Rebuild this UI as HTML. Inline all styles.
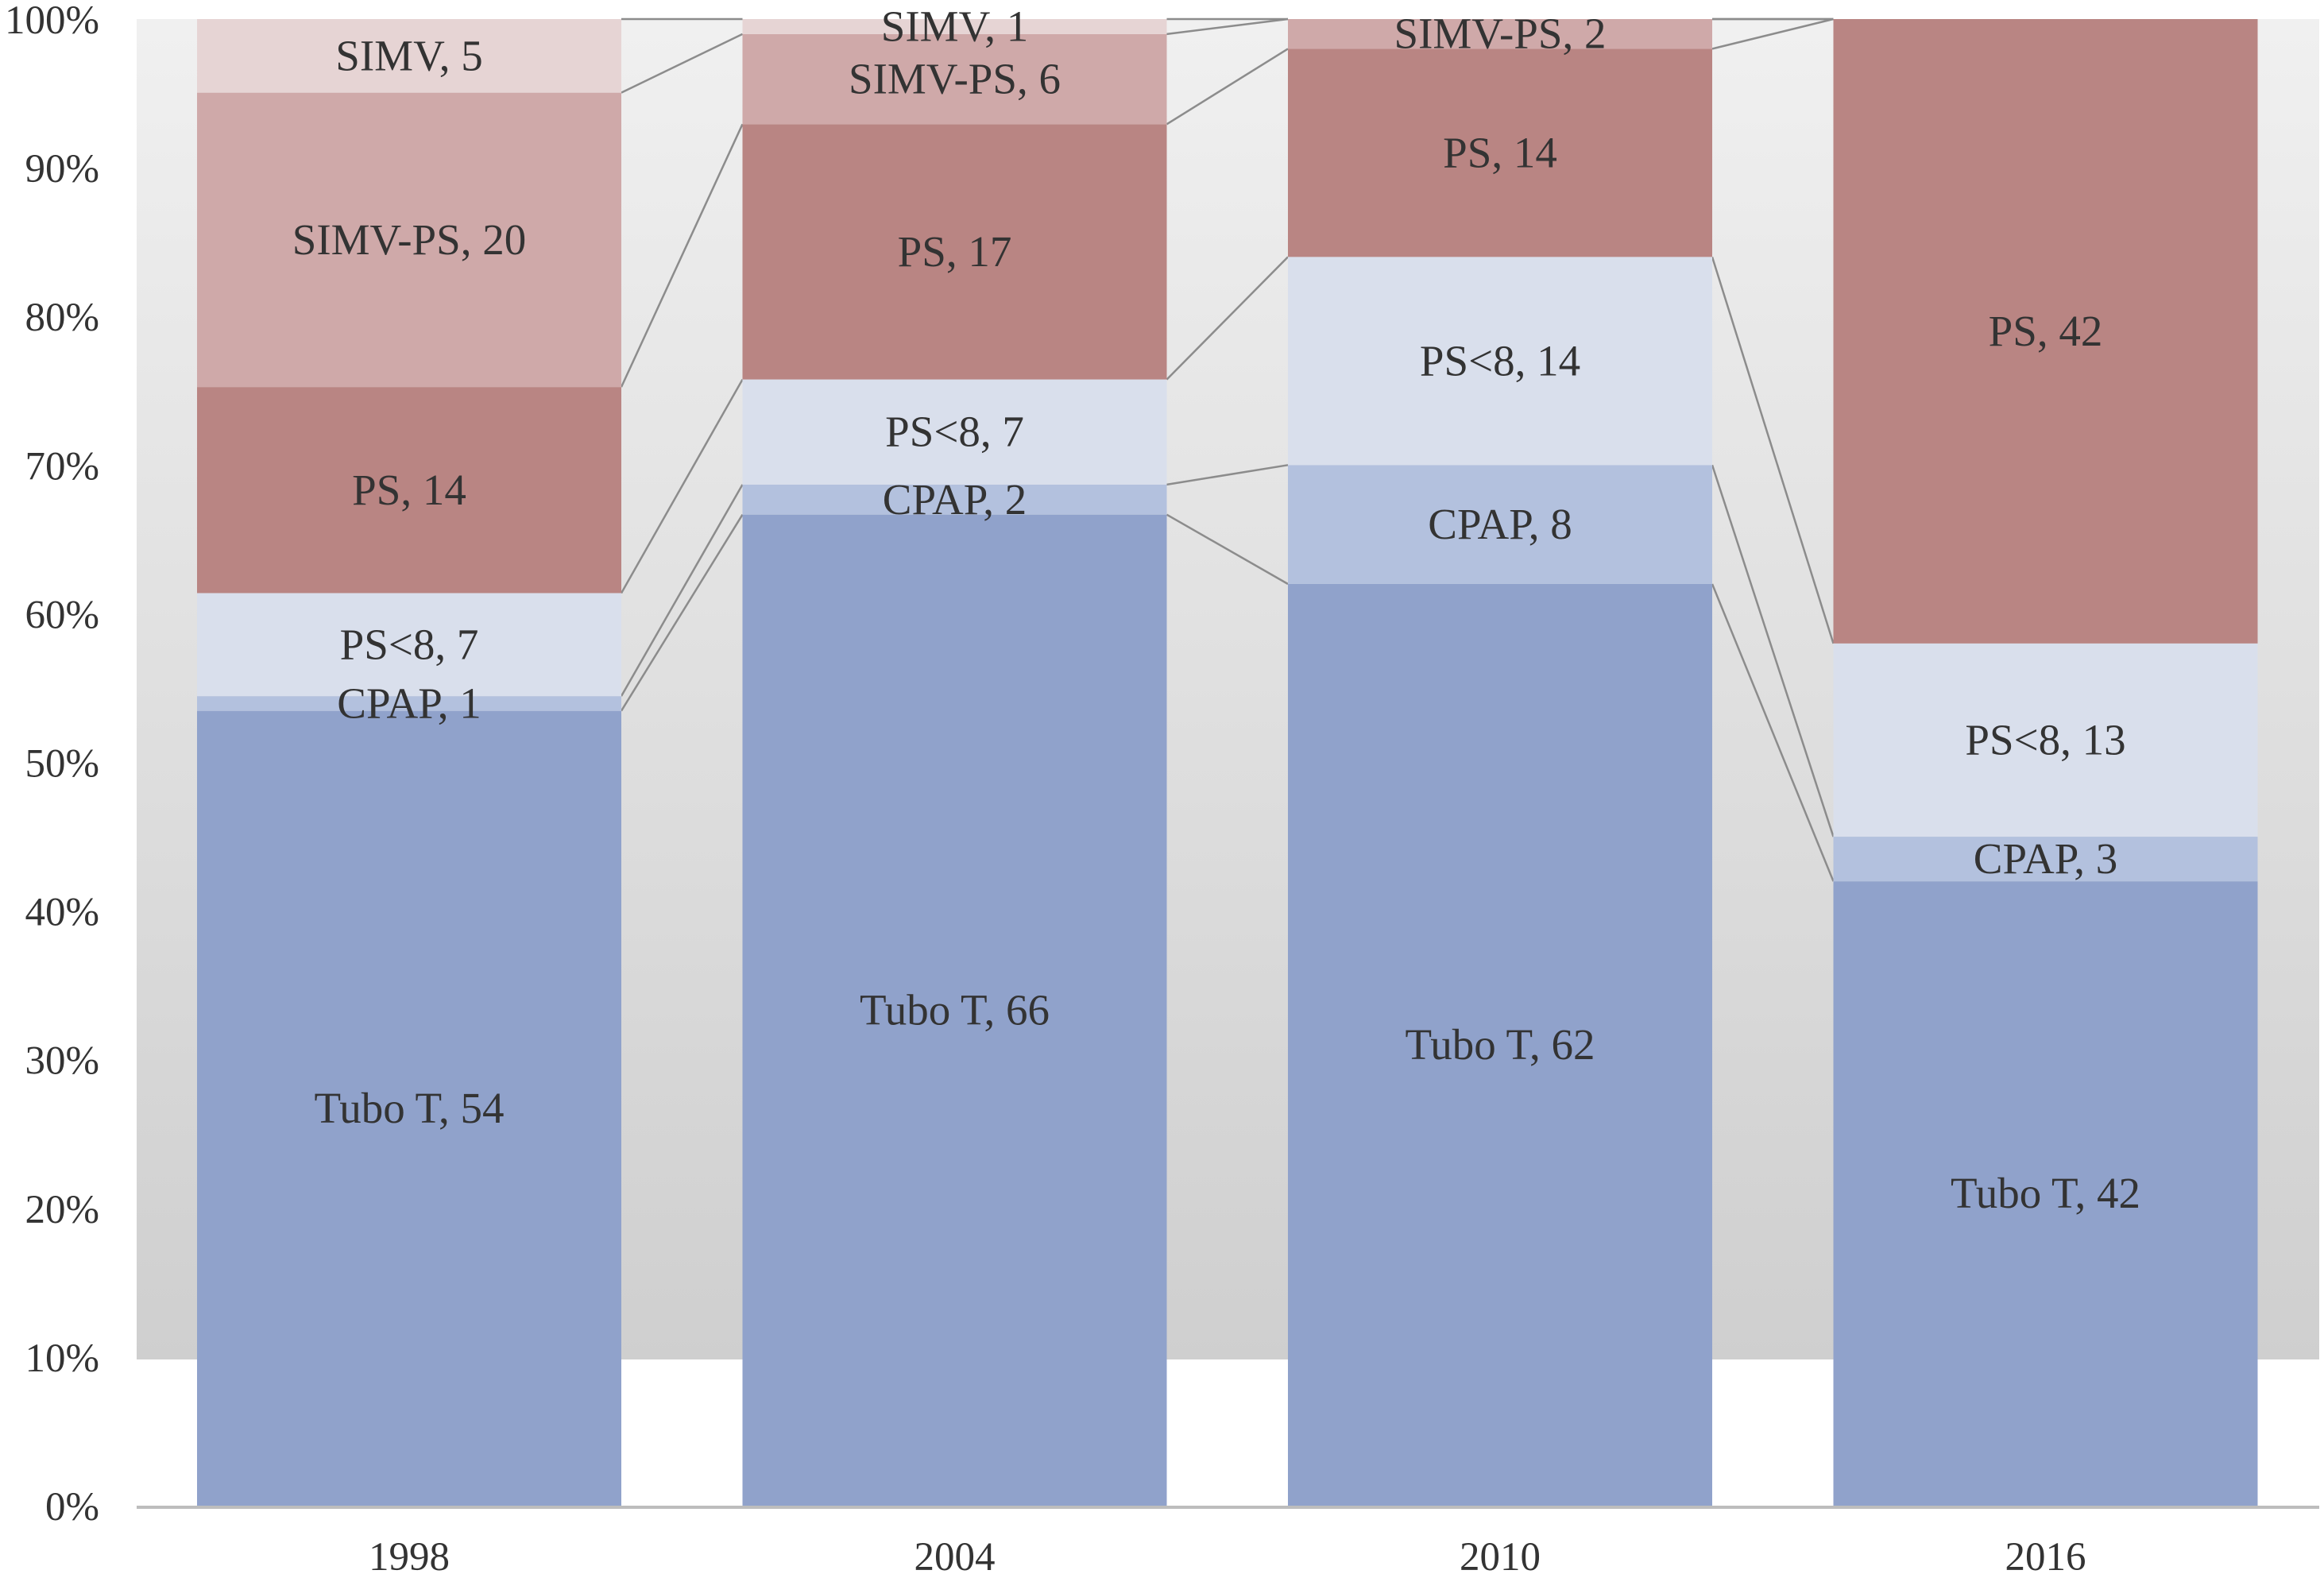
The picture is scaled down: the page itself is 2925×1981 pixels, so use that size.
<!DOCTYPE html>
<html><head><meta charset="utf-8"><style>
body{margin:0;background:#fff}
svg{display:block}
text{font-family:"Liberation Serif",serif;fill:#333}
</style></head><body>
<svg id="chart" width="2925" height="1981" xmlns="http://www.w3.org/2000/svg">
<defs><linearGradient id="bg" x1="0" y1="0" x2="0" y2="1"><stop offset="0" stop-color="#f0f0f0"/><stop offset="1" stop-color="#cfcfcf"/></linearGradient></defs>
<rect x="172" y="24" width="2747" height="1687" fill="url(#bg)"/>
<g id="lines"></g><g id="bars"></g><g id="labels"></g><g id="axes"></g>
</svg>
<script>
const years = ["1998","2004","2010","2016"];
const seriesNames = ["Tubo T","CPAP","PS<8","PS","SIMV-PS","SIMV"];
const tuboT = [54,66,62,42];
const cpap = [1,2,8,3];
const psLt8 = [7,7,14,13];
const ps = [14,17,14,42];
const simvPs = [20,6,2,0];
const simv = [5,1,0,0];
const yTicks = ["0%","10%","20%","30%","40%","50%","60%","70%","80%","90%","100%"];
const colors = ["#90a2cb","#b3c1de","#d9dfec","#b98583","#cfa9a9","#e6d4d4"];
const series = [tuboT,cpap,psLt8,ps,simvPs,simv];
const segNames = ["tubo-t","cpap","ps-lt-8","ps","simv-ps","simv"];

const NS="http://www.w3.org/2000/svg";
const y0=1895, y100=24, barW=534, firstX=248, step=686.5;
const yScale=f=>y0-(y0-y100)*f;
const xLeft=i=>firstX+i*step;
function mk(tag,attrs,parent){const e=document.createElementNS(NS,tag);for(const k in attrs)e.setAttribute(k,attrs[k]);parent.appendChild(e);return e;}
const gBars=document.getElementById('bars'),gLab=document.getElementById('labels'),gLines=document.getElementById('lines'),gAx=document.getElementById('axes');

const cums=years.map((y,i)=>{const tot=series.reduce((a,s)=>a+s[i],0);let c=0;const arr=[0];series.forEach(s=>{c+=s[i];arr.push(c/tot);});return arr;});

years.forEach((yr,i)=>{
  const x=xLeft(i);
  series.forEach((s,k)=>{
    if(s[i]<=0)return;
    const yt=yScale(cums[i][k+1]),yb=yScale(cums[i][k]);
    const r=mk('rect',{x:x,y:yt,width:barW,height:yb-yt,fill:colors[k]},gBars);
    
    
    const t=mk('text',{x:x+barW/2,y:(yt+yb)/2+18,'text-anchor':'middle','font-size':55},gLab);
    t.textContent=seriesNames[k]+', '+s[i];
    
    
  });
  const yl=mk('text',{x:x+barW/2,y:1976,'text-anchor':'middle','font-size':51},gAx);
  yl.textContent=yr;
  
  
});
for(let i=0;i<years.length-1;i++){
  for(let k=1;k<=series.length;k++){
    const ya=yScale(cums[i][k]),yb=yScale(cums[i+1][k]);
    const l=mk('line',{x1:xLeft(i)+barW,y1:ya,x2:xLeft(i+1),y2:yb,stroke:'#8c8c8c','stroke-width':2.5},gLines);
    
    
  }
}
yTicks.forEach((t,i)=>{
  const e=mk('text',{x:125,y:yScale(i/10)+18,'text-anchor':'end','font-size':51},gAx);
  e.textContent=t;
  
  
});
const ax=mk('line',{x1:172,y1:y0+2,x2:2919,y2:y0+2,stroke:'#bdbdbd','stroke-width':4},gAx);


</script>
</body></html>
